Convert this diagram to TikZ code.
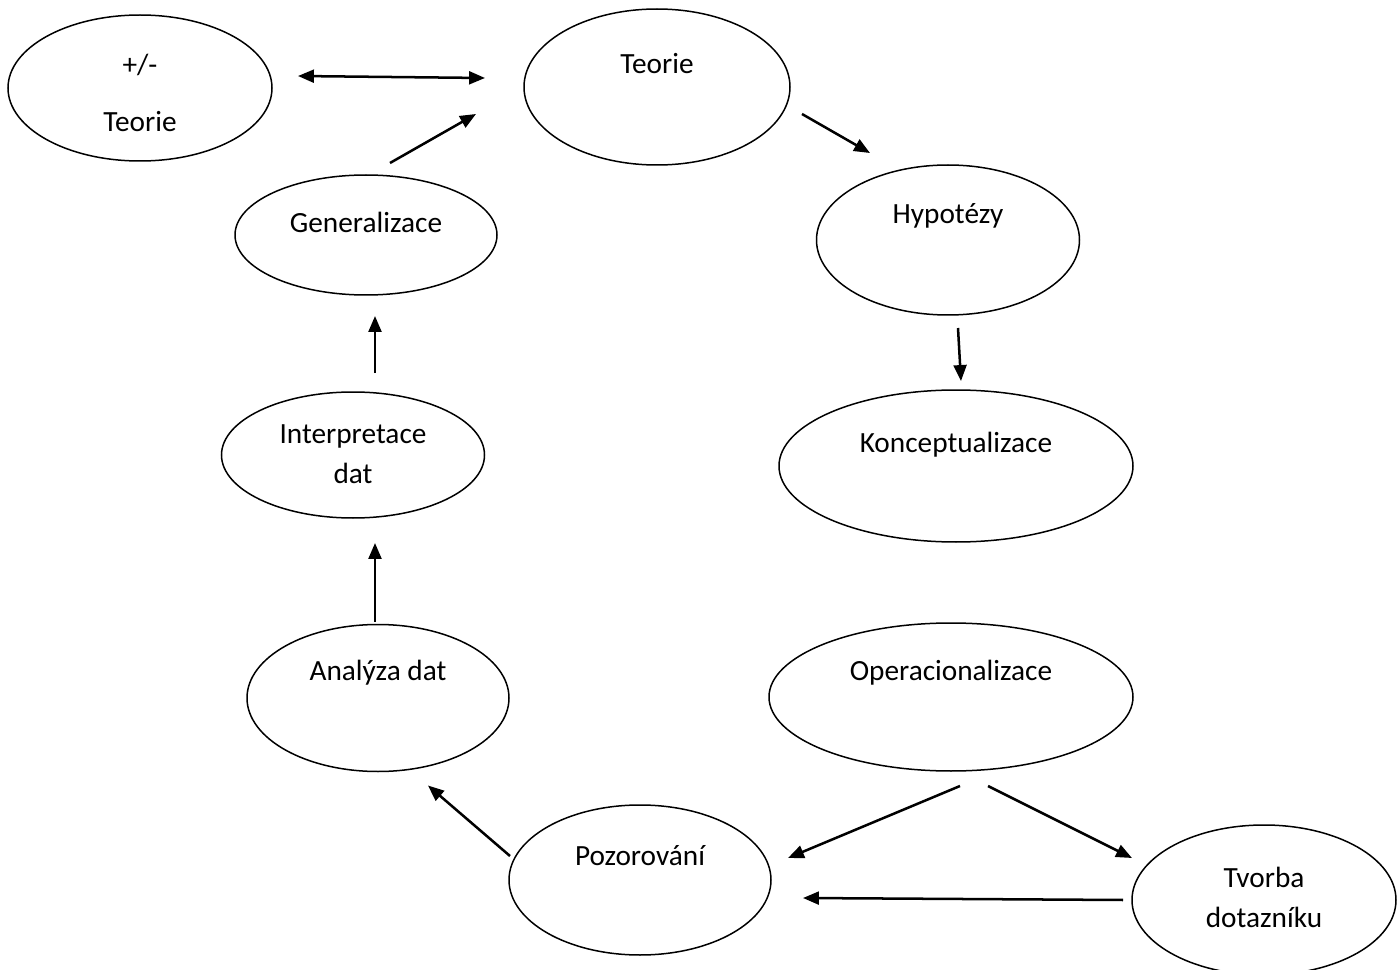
\documentclass[tikz,border=0pt]{standalone}
\usepackage{fontspec}
\setmainfont{Carlito}
\usetikzlibrary{arrows.meta, positioning, shapes.geometric}

\begin{document}
\begin{tikzpicture}[>={Triangle[length=6.8pt, width=5.5pt]}, textup/.style={text depth=#1}, textdown/.style={text height=#1}]
    % Define styles for bubbles and arrows
    \tikzstyle{bubble} = [draw, ellipse, line width=0.64pt, inner sep=0pt, outer sep=0pt, align=center, text height=0.6em, font=\fontsize{12.5}{17.3}\selectfont]
    \tikzstyle{arrow} = [line width=1.07pt]

    \useasboundingbox (0,0) rectangle (21,14.535);

    % Nodes placement
    \node [bubble, minimum width=3.99cm, minimum height=2.34cm, textup=0.63cm] (teorie) at (9.855,13.23) {Teorie};
    \node [bubble, minimum width=3.96cm, minimum height=2.19cm, textdown=1.31cm] (pmteorie) at (2.10,13.215) {+/-\\[7pt]Teorie};
    \node [bubble, minimum width=3.93cm, minimum height=1.80cm, textup=0.30cm] (gen) at (5.49,11.01) {Generalizace};
    \node [bubble, below of=gen, node distance=3.30cm, xshift=-0.195cm, minimum width=3.945cm, minimum height=1.89cm, textdown=0.86cm] (interp) {Interpretace\\dat};
    \node [bubble, below of=interp, node distance=3.645cm, xshift=0.375cm, minimum width=3.93cm, minimum height=2.205cm, textup=0.75cm] (analyza) {Analýza dat};
    \node [bubble, minimum width=3.945cm, minimum height=2.25cm, textup=0.72cm] (hyp) at (14.22,10.935) {Hypotézy};
    \node [bubble, below of=hyp, node distance=3.39cm, xshift=0.12cm, minimum width=5.31cm, minimum height=2.28cm, textup=0.63cm] (konc) {Konceptualizace};
    \node [bubble, below of=konc, node distance=3.465cm, xshift=-0.075cm, minimum width=5.46cm, minimum height=2.22cm, textup=0.72cm] (oper) {Operacionalizace};
    \node [bubble, minimum width=3.93cm, minimum height=2.25cm, textup=0.66cm] (pozor) at (9.60,1.335) {Pozorování};
    \node [bubble, minimum width=3.96cm, minimum height=2.25cm, textdown=0.84cm] (tvorba) at (18.96,1.035) {Tvorba\\dotazníku};

    % Draw edges
    \draw [arrow, <->] ([shift={(0.39,0.18)}]pmteorie.east) -- ([shift={(-0.585,0.135)}]teorie.west);
    \draw [arrow, ->] ([shift={(0.36,0.18)}]gen.north) -- ([shift={(-0.72,-0.405)}]teorie.west);
    \draw [arrow, ->] ([shift={(0.18,-0.405)}]teorie.east) -- ([shift={(-1.17,0.18)}]hyp.north);
    \draw [arrow, ->] ([shift={(0.15,-0.195)}]hyp.south) -- ([shift={(0.075,0.135)}]konc.north);
    \draw [arrow, ->] ([shift={(0.33,0.285)}]interp.north) -- ([shift={(0.135,-0.315)}]gen.south);
    \draw [arrow, ->] ([shift={(-0.045,0.045)}]analyza.north) -- ([shift={(0.33,-0.375)}]interp.south);
    \draw [arrow, ->] ([shift={(0.015,0.36)}]pozor.west) -- ([shift={(0.75,-0.21)}]analyza.south);
    \draw [arrow, ->] ([shift={(0.135,-0.225)}]oper.south) -- ([shift={(0.255,0.33)}]pozor.east);
    \draw [arrow, ->] ([shift={(0.555,-0.225)}]oper.south) -- ([shift={(0,0.63)}]tvorba.west);
    \draw [arrow, ->] ([shift={(-0.135,0)}]tvorba.west) -- ([shift={(0.48,-0.27)}]pozor.east);
\end{tikzpicture}
\end{document}
